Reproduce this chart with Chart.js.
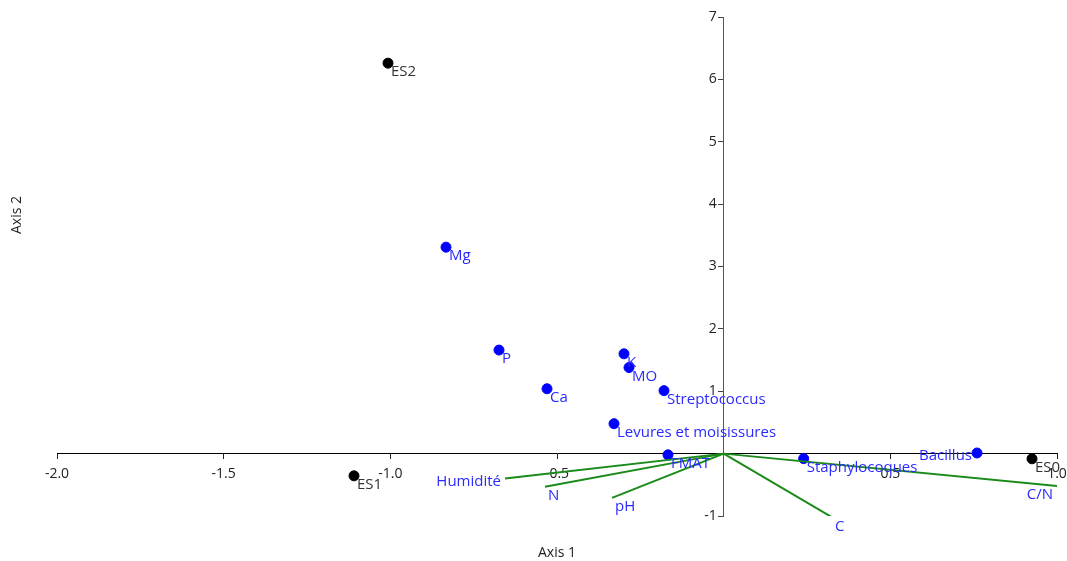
<!DOCTYPE html>
<html>
<head>
<meta charset="utf-8">
<script src="https://cdn.jsdelivr.net/npm/chart.js@4.4.1/dist/chart.umd.min.js"></script>
<style>
html,body{margin:0;padding:0;background:#fff;}
#wrap{width:1067px;height:561px;position:relative;}
</style>
</head>
<body>
<div id="wrap"><canvas id="c"></canvas></div>
<script>
// Individuals (samples)
const sampleNames = ["ES2", "ES1", "ES0"];
const sampleX = [-1.007, -1.109, 0.925];
const sampleY = [6.26, -0.356, -0.083];

// Supplementary variables shown as points
const pointVarNames = ["Mg", "P", "Ca", "K", "MO", "Streptococcus", "Levures et moisissures", "FMAT", "Staphylocoques", "Bacillus"];
const pointVarX = [-0.833, -0.674, -0.530, -0.299, -0.284, -0.179, -0.329, -0.167, 0.240, 0.760];
const pointVarY = [3.31, 1.66, 1.04, 1.60, 1.38, 1.01, 0.48, -0.02, -0.08, 0.01];

// Variables shown as vectors from origin
const vectorNames = ["Humidité", "N", "pH", "C", "C/N"];
const vectorX = [-0.656, -0.536, -0.335, 0.325, 1.0];
const vectorY = [-0.40, -0.53, -0.71, -1.02, -0.52];

// Axis ticks (0 is not labelled)
const xTicks = [-2.0, -1.5, -1.0, -0.5, 0, 0.5, 1.0];
const xTickLabels = ["-2.0", "-1.5", "-1.0", "-0.5", "", "0.5", "1.0"];
const yTicks = [-1, 0, 1, 2, 3, 4, 5, 6, 7];
const yTickLabels = ["-1", "", "1", "2", "3", "4", "5", "6", "7"];

// label placement style (side of the mark)
const leftSideLabels = ["Bacillus", "Humidité", "C/N"];

const FONT = "'Open Sans', 'Noto Sans', sans-serif";
const GREEN = "#1a8a1a";
const BLUE = "#0000ff";
const LABEL_BLUE = "#2a2aff";

const datasets = [];
vectorNames.forEach((n, i) => {
  datasets.push({
    type: 'line',
    label: n,
    data: [{x: 0, y: 0}, {x: vectorX[i], y: vectorY[i]}],
    borderColor: GREEN,
    borderWidth: 2,
    pointRadius: 0,
    fill: false,
    kind: 'vector'
  });
});
datasets.push({
  type: 'scatter',
  label: 'variables',
  data: pointVarX.map((x, i) => ({x, y: pointVarY[i], name: pointVarNames[i]})),
  backgroundColor: BLUE,
  borderColor: BLUE,
  pointRadius: 5,
  kind: 'points',
  labelColor: LABEL_BLUE
});
datasets.push({
  type: 'scatter',
  label: 'samples',
  data: sampleX.map((x, i) => ({x, y: sampleY[i], name: sampleNames[i]})),
  backgroundColor: '#000',
  borderColor: '#000',
  pointRadius: 5,
  kind: 'points',
  labelColor: '#333'
});

const tickLabelPlugin = {
  id: 'tickLabels',
  beforeDatasetsDraw(chart) {
    const ctx = chart.ctx;
    const xs = chart.scales.x, ys = chart.scales.y;
    const x0 = xs.getPixelForValue(0), y0 = ys.getPixelForValue(0);
    ctx.save();
    ctx.font = "14px " + FONT;
    ctx.fillStyle = '#222';
    ctx.textBaseline = 'middle';
    ctx.textAlign = 'center';
    xTicks.forEach((v, i) => ctx.fillText(xTickLabels[i], xs.getPixelForValue(v), y0 + 20));
    ctx.textAlign = 'right';
    yTicks.forEach((v, i) => ctx.fillText(yTickLabels[i], x0 - 7, ys.getPixelForValue(v)));
    ctx.restore();
  }
};

const labelPlugin = {
  id: 'labels',
  afterDatasetsDraw(chart) {
    const ctx = chart.ctx;
    const xs = chart.scales.x, ys = chart.scales.y;
    ctx.save();
    ctx.font = "15px " + FONT;
    ctx.textBaseline = 'middle';
    chart.data.datasets.forEach(ds => {
      if (ds.kind === 'vector') {
        const p = ds.data[1];
        const px = xs.getPixelForValue(p.x), py = ys.getPixelForValue(p.y);
        ctx.fillStyle = LABEL_BLUE;
        if (leftSideLabels.includes(ds.label)) {
          ctx.textAlign = 'right';
          ctx.fillText(ds.label, px - 4, py + (ds.label === 'C/N' ? 9 : 3));
        } else {
          ctx.textAlign = 'left';
          ctx.fillText(ds.label, px + 3, py + 9);
        }
      } else if (ds.kind === 'points') {
        ds.data.forEach(p => {
          const px = xs.getPixelForValue(p.x), py = ys.getPixelForValue(p.y);
          ctx.fillStyle = ds.labelColor;
          if (leftSideLabels.includes(p.name)) {
            ctx.textAlign = 'right';
            ctx.fillText(p.name, px - 5, py + 3);
          } else {
            ctx.textAlign = 'left';
            ctx.fillText(p.name, px + 3, py + 9);
          }
        });
      }
    });
    // axis titles
    const ca = chart.chartArea;
    ctx.font = "14px " + FONT;
    ctx.fillStyle = '#222';
    ctx.textAlign = 'center';
    ctx.fillText('Axis 1', (ca.left + ca.right) / 2, 553);
    ctx.translate(17, 215);
    ctx.rotate(-Math.PI / 2);
    ctx.fillText('Axis 2', 0, 0);
    ctx.restore();
  }
};

new Chart(document.getElementById('c'), {
  data: {datasets},
  options: {
    responsive: true,
    maintainAspectRatio: false,
    animation: false,
    layout: {padding: {left: 57, right: 10, top: 17, bottom: 45}},
    plugins: {legend: {display: false}, tooltip: {enabled: false}},
    scales: {
      x: {
        type: 'linear',
        position: {y: 0},
        min: -2, max: 1,
        afterFit: s => { s.height = 0; s.paddingLeft = 0; s.paddingRight = 0; },
        afterBuildTicks: s => { s.ticks = xTicks.map(v => ({value: v})); },
        ticks: {display: false},
        grid: {drawOnChartArea: false, drawTicks: true, tickLength: 5, tickColor: '#222'},
        border: {display: true, color: '#000', width: 1}
      },
      y: {
        type: 'linear',
        position: {x: 0},
        min: -1, max: 7,
        afterFit: s => { s.width = 0; s.paddingTop = 0; s.paddingBottom = 0; },
        afterBuildTicks: s => { s.ticks = yTicks.map(v => ({value: v})); },
        ticks: {display: false},
        grid: {drawOnChartArea: false, drawTicks: true, tickLength: 5, tickColor: '#444'},
        border: {display: true, color: '#555', width: 1}
      }
    }
  },
  plugins: [tickLabelPlugin, labelPlugin]
});
</script>
</body>
</html>
